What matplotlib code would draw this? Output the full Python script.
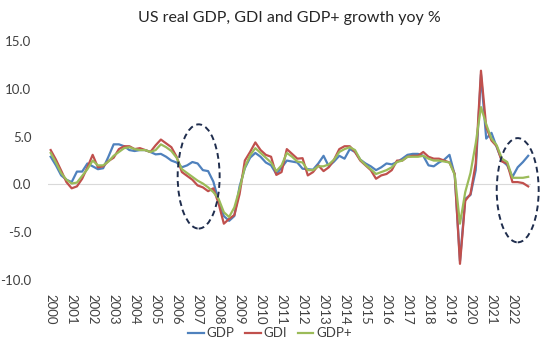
import matplotlib
matplotlib.use("Agg")
import matplotlib.pyplot as plt
from matplotlib.patches import Ellipse
import numpy as np

plt.rcParams['font.family'] = ['Lato', 'DejaVu Sans']

# year-on-year growth, quarterly (92 quarters)
gdp = [2.9, 2.0, 0.95, 0.5, 0.25, 1.35, 1.35, 2.2, 1.9, 1.6,
       1.7, 2.9, 4.2, 4.2, 4.0, 3.6, 3.5, 3.6, 3.6, 3.4,
       3.15, 3.2, 2.9, 2.5, 2.3, 1.8, 2.0, 2.35, 2.2, 1.5,
       1.4, 0.3, -1.7, -3.3, -3.8, -3.3, -0.2, 1.7, 2.8, 3.3,
       2.9, 2.3, 2.0, 1.1, 1.75, 2.5, 2.4, 2.3, 1.65, 1.6,
       1.55, 2.2, 3.0, 1.9, 2.4, 3.0, 2.7, 3.7, 3.4, 2.6,
       2.2, 1.9, 1.5, 1.8, 2.2, 2.1, 2.35, 2.7, 3.1, 3.2,
       3.2, 3.0, 2.0, 1.9, 2.3, 2.6, 3.1, 1.0, -8.0, -1.5,
       -1.1, 1.5, 11.5, 4.8, 5.4, 3.9, 2.5, 2.0, 0.8, 1.8, 2.35, 3.0]
gdi = [3.6, 2.6, 1.45, 0.25, -0.4, -0.2, 0.6, 1.8, 3.1, 1.8,
       1.9, 2.45, 2.8, 3.7, 4.0, 4.0, 3.7, 3.8, 3.6, 3.4,
       4.1, 4.7, 4.3, 3.9, 2.9, 1.3, 0.9, 0.5, -0.1, -0.3,
       -0.7, -0.4, -2.0, -4.1, -3.6, -3.2, -1.0, 2.5, 3.4, 4.4,
       3.6, 3.1, 2.9, 1.0, 1.3, 3.7, 3.2, 2.7, 2.75, 0.95,
       1.3, 2.0, 1.4, 1.8, 2.6, 3.7, 4.0, 4.0, 3.4, 2.5,
       2.0, 1.5, 0.6, 0.95, 1.1, 1.5, 2.5, 2.5, 2.9, 3.0,
       3.0, 3.4, 2.9, 2.7, 2.7, 2.5, 2.3, 1.1, -8.3, -1.7,
       -1.0, 2.2, 11.9, 6.0, 4.6, 4.0, 2.4, 2.2, 0.25, 0.25, 0.15, -0.2]
gdp_plus = [3.3, 2.3, 1.2, 0.5, 0.1, 0.2, 0.9, 1.6, 2.5, 2.0,
            2.0, 2.4, 3.0, 3.4, 3.8, 3.9, 3.7, 3.6, 3.6, 3.4,
            3.6, 4.2, 3.9, 3.5, 2.8, 1.6, 1.2, 0.8, 0.4, 0.1,
            -0.3, -0.8, -1.5, -2.9, -3.4, -2.4, -0.45, 1.8, 3.05, 3.8,
            3.3, 2.8, 2.3, 1.4, 2.0, 3.3, 2.9, 2.4, 2.3, 1.5,
            1.5, 1.9, 1.9, 2.1, 2.6, 3.4, 3.7, 3.9, 3.6, 2.6,
            2.05, 1.6, 1.1, 1.3, 1.5, 1.8, 2.35, 2.5, 2.9, 2.9,
            2.9, 3.0, 2.7, 2.5, 2.5, 2.4, 2.3, 1.0, -4.1, -0.8,
            1.2, 4.3, 8.1, 6.3, 4.8, 4.1, 2.7, 2.35, 0.7, 0.7, 0.7, 0.8]
years = [str(y) for y in range(2000, 2023)]

fig = plt.figure(figsize=(5.4, 3.51), dpi=100)
ax = fig.add_axes([0.089, 0.202, 0.894, 0.681])

x = np.arange(len(gdp))
ax.axhline(0, color='#d9d9d9', lw=0.8, zorder=1)
ax.plot(x, gdp, color='#4F81BD', lw=1.6, label='GDP', zorder=3)
ax.plot(x, gdi, color='#C0504D', lw=1.6, label='GDI', zorder=4)
ax.plot(x, gdp_plus, color='#9BBB59', lw=1.6, label='GDP+', zorder=5)

# dashed ellipses highlighting the divergences
for cx, cy in [(28.2, 0.84), (89.0, -0.6)]:
    ax.add_patch(Ellipse((cx, cy), 8.0, 10.9, fill=False, ec='#1F2D4D',
                         ls=(0, (3, 2)), lw=1.4, zorder=6, clip_on=False))

ax.set_xlim(-0.5, len(gdp) - 0.5)
ax.set_ylim(-10, 15)
ax.set_yticks([-10, -5, 0, 5, 10, 15])
ax.set_yticklabels([f'{v:.1f}' for v in [-10, -5, 0, 5, 10, 15]], fontsize=9.5, color='#404040')
ax.set_xticks(np.arange(0, 4 * len(years), 4))
ax.set_xticklabels(years, rotation=-90, fontsize=9.5, color='#404040')
ax.tick_params(length=0, pad=10)
ax.tick_params(axis='y', pad=12)
for s in ax.spines.values():
    s.set_visible(False)

ax.set_title('US real GDP, GDI and GDP+ growth yoy %', fontsize=11.5, color='#262626', pad=14)
fig.legend(loc='lower center', bbox_to_anchor=(0.5, 0.0), ncol=3, frameon=False,
           fontsize=9.5, handlelength=1.2, handletextpad=0.2, columnspacing=0.8,
           labelcolor='#404040')

fig.savefig('out.png', dpi=100)
